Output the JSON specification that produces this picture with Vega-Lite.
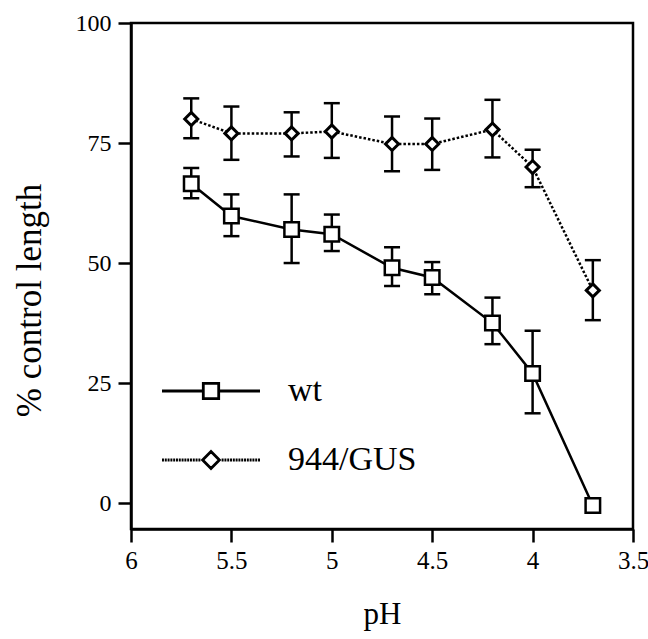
{
  "$schema": "https://vega.github.io/schema/vega-lite/v6.json",
  "width": 502,
  "height": 506,
  "autosize": {"type": "none"},
  "padding": {"left": 131, "top": 23, "right": 15, "bottom": 110},
  "background": "white",
  "config": {
    "font": "Liberation Serif",
    "view": {"stroke": "black", "strokeWidth": 2.5},
    "axis": {
      "domainColor": "black", "domainWidth": 2.5,
      "tickColor": "black", "tickWidth": 2.5, "tickSize": 13,
      "grid": false,
      "labelFont": "Liberation Serif", "labelFontSize": 24, "labelColor": "black",
      "titleFont": "Liberation Serif", "titleFontSize": 32, "titleFontWeight": "normal", "titleColor": "black"
    },
    "legend": {"labelFont": "Liberation Serif"}
  },
  "data": {
    "values": [
      {"series": "wt", "pH": 5.7, "mean": 66.5, "lo": 63.5, "hi": 69.8},
      {"series": "wt", "pH": 5.5, "mean": 59.8, "lo": 55.6, "hi": 64.3},
      {"series": "wt", "pH": 5.2, "mean": 57.0, "lo": 50.0, "hi": 64.3},
      {"series": "wt", "pH": 5.0, "mean": 56.0, "lo": 52.5, "hi": 60.1},
      {"series": "wt", "pH": 4.7, "mean": 49.0, "lo": 45.2, "hi": 53.3},
      {"series": "wt", "pH": 4.5, "mean": 47.0, "lo": 43.5, "hi": 50.2},
      {"series": "wt", "pH": 4.2, "mean": 37.5, "lo": 33.1, "hi": 42.8},
      {"series": "wt", "pH": 4.0, "mean": 27.0, "lo": 18.7, "hi": 35.9},
      {"series": "wt", "pH": 3.7, "mean": -0.5, "lo": null, "hi": null},
      {"series": "944/GUS", "pH": 5.7, "mean": 80.0, "lo": 76.0, "hi": 84.3},
      {"series": "944/GUS", "pH": 5.5, "mean": 77.0, "lo": 71.5, "hi": 82.6},
      {"series": "944/GUS", "pH": 5.2, "mean": 77.0, "lo": 72.2, "hi": 81.4},
      {"series": "944/GUS", "pH": 5.0, "mean": 77.4, "lo": 71.9, "hi": 83.3},
      {"series": "944/GUS", "pH": 4.7, "mean": 74.8, "lo": 69.1, "hi": 80.5},
      {"series": "944/GUS", "pH": 4.5, "mean": 74.8, "lo": 69.4, "hi": 80.1},
      {"series": "944/GUS", "pH": 4.2, "mean": 77.8, "lo": 72.0, "hi": 84.0},
      {"series": "944/GUS", "pH": 4.0, "mean": 70.0, "lo": 65.8, "hi": 73.6},
      {"series": "944/GUS", "pH": 3.7, "mean": 44.3, "lo": 38.1, "hi": 50.6}
    ]
  },
  "encoding": {
    "x": {
      "field": "pH", "type": "quantitative",
      "scale": {"domain": [6, 3.5], "nice": false, "zero": false},
      "axis": {"values": [6, 5.5, 5, 4.5, 4, 3.5], "format": "~g", "labelPadding": 6, "labelFontSize": 25, "title": "pH", "titleFont": "Liberation Serif", "titleFontSize": 31, "titlePadding": 26, "labelFlush": false}
    }
  },
  "layer": [
    {
      "transform": [{"filter": "datum.lo != null"}],
      "mark": {"type": "rule", "color": "black", "strokeWidth": 2.5},
      "encoding": {
        "y": {"field": "lo", "type": "quantitative",
          "scale": {"domain": [-5.4, 100], "nice": false, "zero": false},
          "axis": {"values": [0, 25, 50, 75, 100], "labelPadding": 7, "title": "% control length", "titleFont": "Liberation Serif, Times New Roman, serif", "titleFontStyle": "normal", "titleFontSize": 35, "titleColor": "black", "titlePadding": 28, "titleY": 277, "labelFlush": false}},
        "y2": {"field": "hi"}
      }
    },
    {
      "transform": [{"filter": "datum.lo != null"}],
      "mark": {"type": "tick", "orient": "horizontal", "color": "black", "thickness": 2.5, "size": 16, "opacity": 1},
      "encoding": {"y": {"field": "lo", "type": "quantitative"}}
    },
    {
      "transform": [{"filter": "datum.hi != null"}],
      "mark": {"type": "tick", "orient": "horizontal", "color": "black", "thickness": 2.5, "size": 16, "opacity": 1},
      "encoding": {"y": {"field": "hi", "type": "quantitative"}}
    },
    {
      "transform": [{"filter": "datum.series == 'wt'"}],
      "mark": {"type": "line", "color": "black", "strokeWidth": 2.5},
      "encoding": {"y": {"field": "mean", "type": "quantitative"}}
    },
    {
      "transform": [{"filter": "datum.series == '944/GUS'"}],
      "mark": {"type": "line", "color": "black", "strokeWidth": 2.5, "strokeDash": [2.5, 2]},
      "encoding": {"y": {"field": "mean", "type": "quantitative"}}
    },
    {
      "transform": [{"filter": "datum.series == 'wt'"}],
      "mark": {"type": "point", "shape": "square", "size": 210, "filled": false, "fill": "white", "fillOpacity": 1, "stroke": "black", "strokeWidth": 2.5, "opacity": 1},
      "encoding": {"y": {"field": "mean", "type": "quantitative"}}
    },
    {
      "transform": [{"filter": "datum.series == '944/GUS'"}],
      "mark": {"type": "point", "shape": "diamond", "size": 170, "filled": false, "fill": "white", "fillOpacity": 1, "stroke": "black", "strokeWidth": 3, "opacity": 1},
      "encoding": {"y": {"field": "mean", "type": "quantitative"}}
    },
    {
      "mark": {"type": "point", "filled": false, "color": "black", "strokeWidth": 2.5, "opacity": 0},
      "encoding": {
        "y": {"field": "mean", "type": "quantitative"},
        "shape": {
          "field": "series", "type": "nominal",
          "scale": {
            "domain": ["wt", "944/GUS"],
            "range": [
              "M-3.5,0L-0.55,0M0.55,0L3.5,0M-0.55,-0.55L0.55,-0.55L0.55,0.55L-0.55,0.55Z",
              "M-3.5,0L-3.36,0M-3.3,0L-3.16,0M-3.1,0L-2.96,0M-2.9,0L-2.76,0M-2.7,0L-2.56,0M-2.5,0L-2.36,0M-2.3,0L-2.16,0M-2.1,0L-1.96,0M-1.9,0L-1.76,0M-1.7,0L-1.56,0M-1.5,0L-1.36,0M-1.3,0L-1.16,0M-1.1,0L-0.96,0M-0.9,0L-0.76,0M0.76,0L0.9,0M0.96,0L1.1,0M1.16,0L1.3,0M1.36,0L1.5,0M1.56,0L1.7,0M1.76,0L1.9,0M1.96,0L2.1,0M2.16,0L2.3,0M2.36,0L2.5,0M2.56,0L2.7,0M2.76,0L2.9,0M2.96,0L3.1,0M3.16,0L3.3,0M3.36,0L3.5,0M-0.6,0L0,-0.6L0.6,0L0,0.6Z"
            ]
          },
          "legend": {
            "orient": "none", "legendX": 63, "legendY": 351,
            "title": null, "padding": 0,
            "symbolSize": 784, "symbolStrokeWidth": 2.8, "symbolOpacity": 1,
            "labelFontSize": 34, "labelColor": "black", "labelOffset": 60,
            "rowPadding": 35, "labelLimit": 300
          }
        }
      }
    }
  ]
}
